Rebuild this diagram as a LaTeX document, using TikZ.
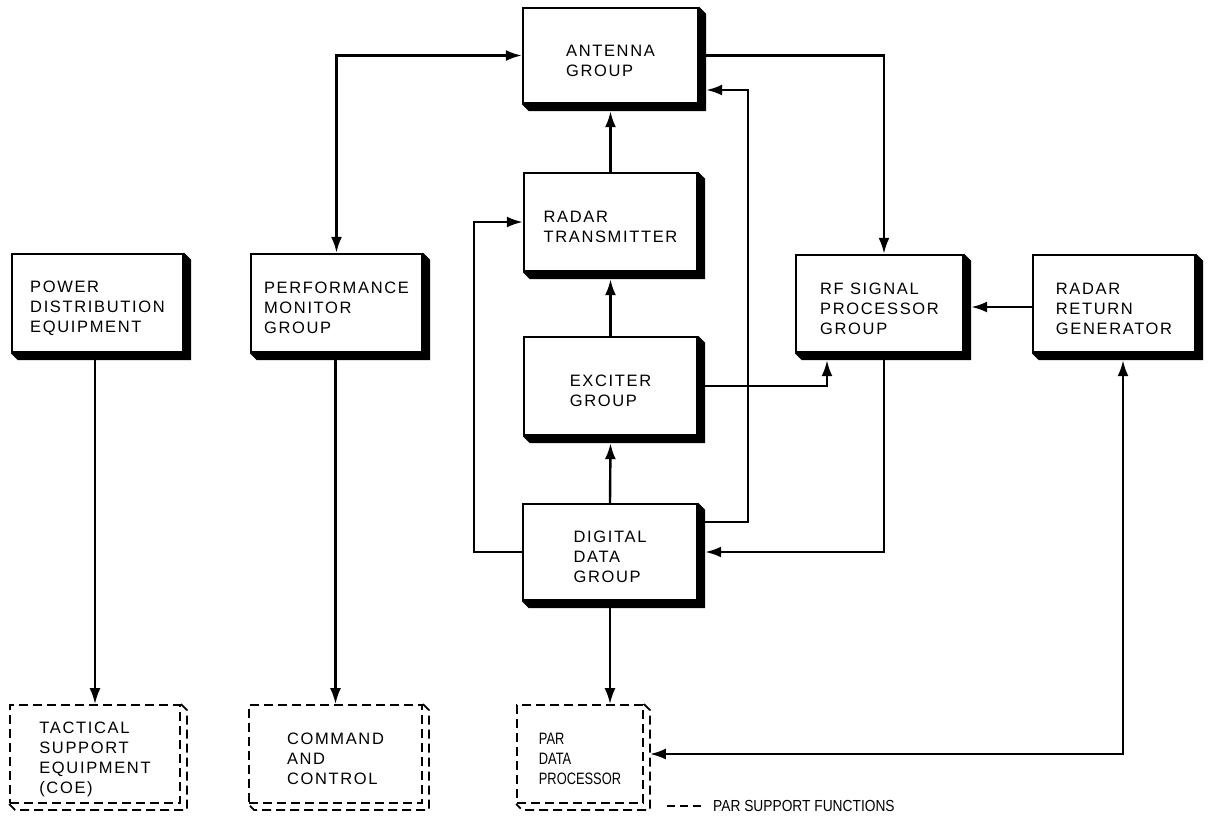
\documentclass[tikz,border=0pt]{standalone}
\usepackage{fontspec}
\setmainfont{Liberation Sans}[LetterSpace=10]
\newfontfamily\narrowfont{Liberation Sans}[FakeStretch=0.78]
\newfontfamily\legfont{Liberation Sans}[FakeStretch=0.86]
\usetikzlibrary{arrows.meta,calc}
\newcommand\tp{\rule{0pt}{22pt}}
\tikzset{
  blk/.style={draw, line width=2.4pt, fill=white, inner sep=0pt, align=left,
    font=\fontsize{16.5}{20}\selectfont},
  dblk/.style={blk, dash pattern=on 9pt off 5pt, line width=1.8pt},
  conn/.style={line width=2.4pt, -{Latex[length=16pt,width=11pt]}},
  conn2/.style={line width=2.4pt, {Latex[length=16pt,width=11pt]}-{Latex[length=16pt,width=11pt]}},
}
\newcommand\myshadow[1]{%
  \fill (#1.north east) -- ++(7,7) -- ([shift={(7,7)}]#1.south east)
    -- ([shift={(7,7)}]#1.south west) -- (#1.south west) -- (#1.south east) -- cycle;}
\newcommand\mydshadow[1]{%
  \draw[line width=1.8pt, dash pattern=on 9pt off 5pt] (#1.north east) -- ++(6,6) -- ([shift={(6,6)}]#1.south east)
    -- ([shift={(6,6)}]#1.south west) -- (#1.south west);}
\begin{document}
\begin{tikzpicture}[x=1pt,y=-1pt]
\useasboundingbox[fill=white] (0,0) rectangle (1213,815);

\node[blk, minimum width=171pt, minimum height=98pt] (pwr) at (97.5,303) {\tp POWER\\DISTRIBUTION\\EQUIPMENT};
\node[blk, minimum width=171pt, minimum height=98pt] (pmg) at (336.5,303) {\tp PERFORMANCE\\MONITOR\\GROUP};
\node[blk, minimum width=175pt, minimum height=95pt] (ant) at (610.5,55.5) {\tp ANTENNA\\GROUP};
\node[blk, minimum width=173pt, minimum height=98pt] (xmt) at (610.5,222) {\tp RADAR\\TRANSMITTER};
\node[blk, minimum width=173pt, minimum height=98pt] (exc) at (610.5,386) {\tp EXCITER\\GROUP};
\node[blk, minimum width=174pt, minimum height=96pt] (ddg) at (610,552) {\tp DIGITAL\\DATA\\GROUP};
\node[blk, minimum width=167pt, minimum height=97pt] (rfs) at (879.5,303.5) {\tp RF SIGNAL\\PROCESSOR\\GROUP};
\node[blk, minimum width=162pt, minimum height=97pt] (rrg) at (1114,303.5) {\tp RADAR\\RETURN\\GENERATOR};
\node[dblk, minimum width=170pt, minimum height=98pt] (tse) at (95,754) {\tp TACTICAL\\SUPPORT\\EQUIPMENT\\(COE)};
\node[dblk, minimum width=173pt, minimum height=98pt] (cnc) at (335.5,754) {\tp COMMAND\\AND\\CONTROL};
\node[dblk, minimum width=126pt, minimum height=98pt, font=\narrowfont\fontsize{16.5}{20}\selectfont] (par) at (580,754) {\tp PAR\\DATA\\PROCESSOR};

\foreach \n in {pwr,pmg,ant,xmt,exc,ddg,rfs,rrg} {\myshadow{\n}}
\foreach \n in {tse,cnc,par} {\mydshadow{\n}}

% connectors
\draw[conn] ([yshift=-7pt]pwr.south -| tse.north) -- (tse.north);
\draw[conn] ([yshift=-7pt]pmg.south -| cnc.north) -- (cnc.north);
\draw[conn2] (pmg.north) |- (ant.west);
\draw[conn] ([xshift=7pt]ant.east) -| ([xshift=4.5pt]rfs.north);
\draw[conn] (xmt.north) -- ([yshift=-7pt]ant.south);
\draw[conn] (exc.north) -- ([yshift=-7pt]xmt.south);
\draw[conn] (ddg.north) -- ([yshift=-7pt]exc.south);
\draw[conn] ([yshift=-7pt]ddg.south) -- (ddg.south |- par.north);
\draw[conn] (ddg.west) -- ++(-48,0) |- (xmt.west);
\draw[conn] ([xshift=7pt,yshift=30pt]ddg.east) -- ++(43,0) |- ([xshift=7pt,yshift=-34.5pt]ant.east);
\draw[conn] ([xshift=7pt]exc.east) -| ([xshift=-52.5pt,yshift=-7pt]rfs.south);
\draw[conn] ([xshift=4.5pt,yshift=-7pt]rfs.south) |- ([xshift=7pt]ddg.east);
\draw[conn] ([yshift=-3.5pt]rrg.west) -- ([xshift=7pt,yshift=-3.5pt]rfs.east);
\draw[conn2] ([xshift=9pt,yshift=-7pt]rrg.south) |- ([xshift=6pt]par.east);

% legend
\node[anchor=west, inner sep=0pt, font=\legfont\fontsize{16}{18}\selectfont] (leg) at (713,806) {PAR SUPPORT FUNCTIONS};
\draw[line width=1.8pt, dash pattern=on 8pt off 5pt] ([xshift=-46pt]leg.west) -- ([xshift=-9pt]leg.west);
\end{tikzpicture}
\end{document}
